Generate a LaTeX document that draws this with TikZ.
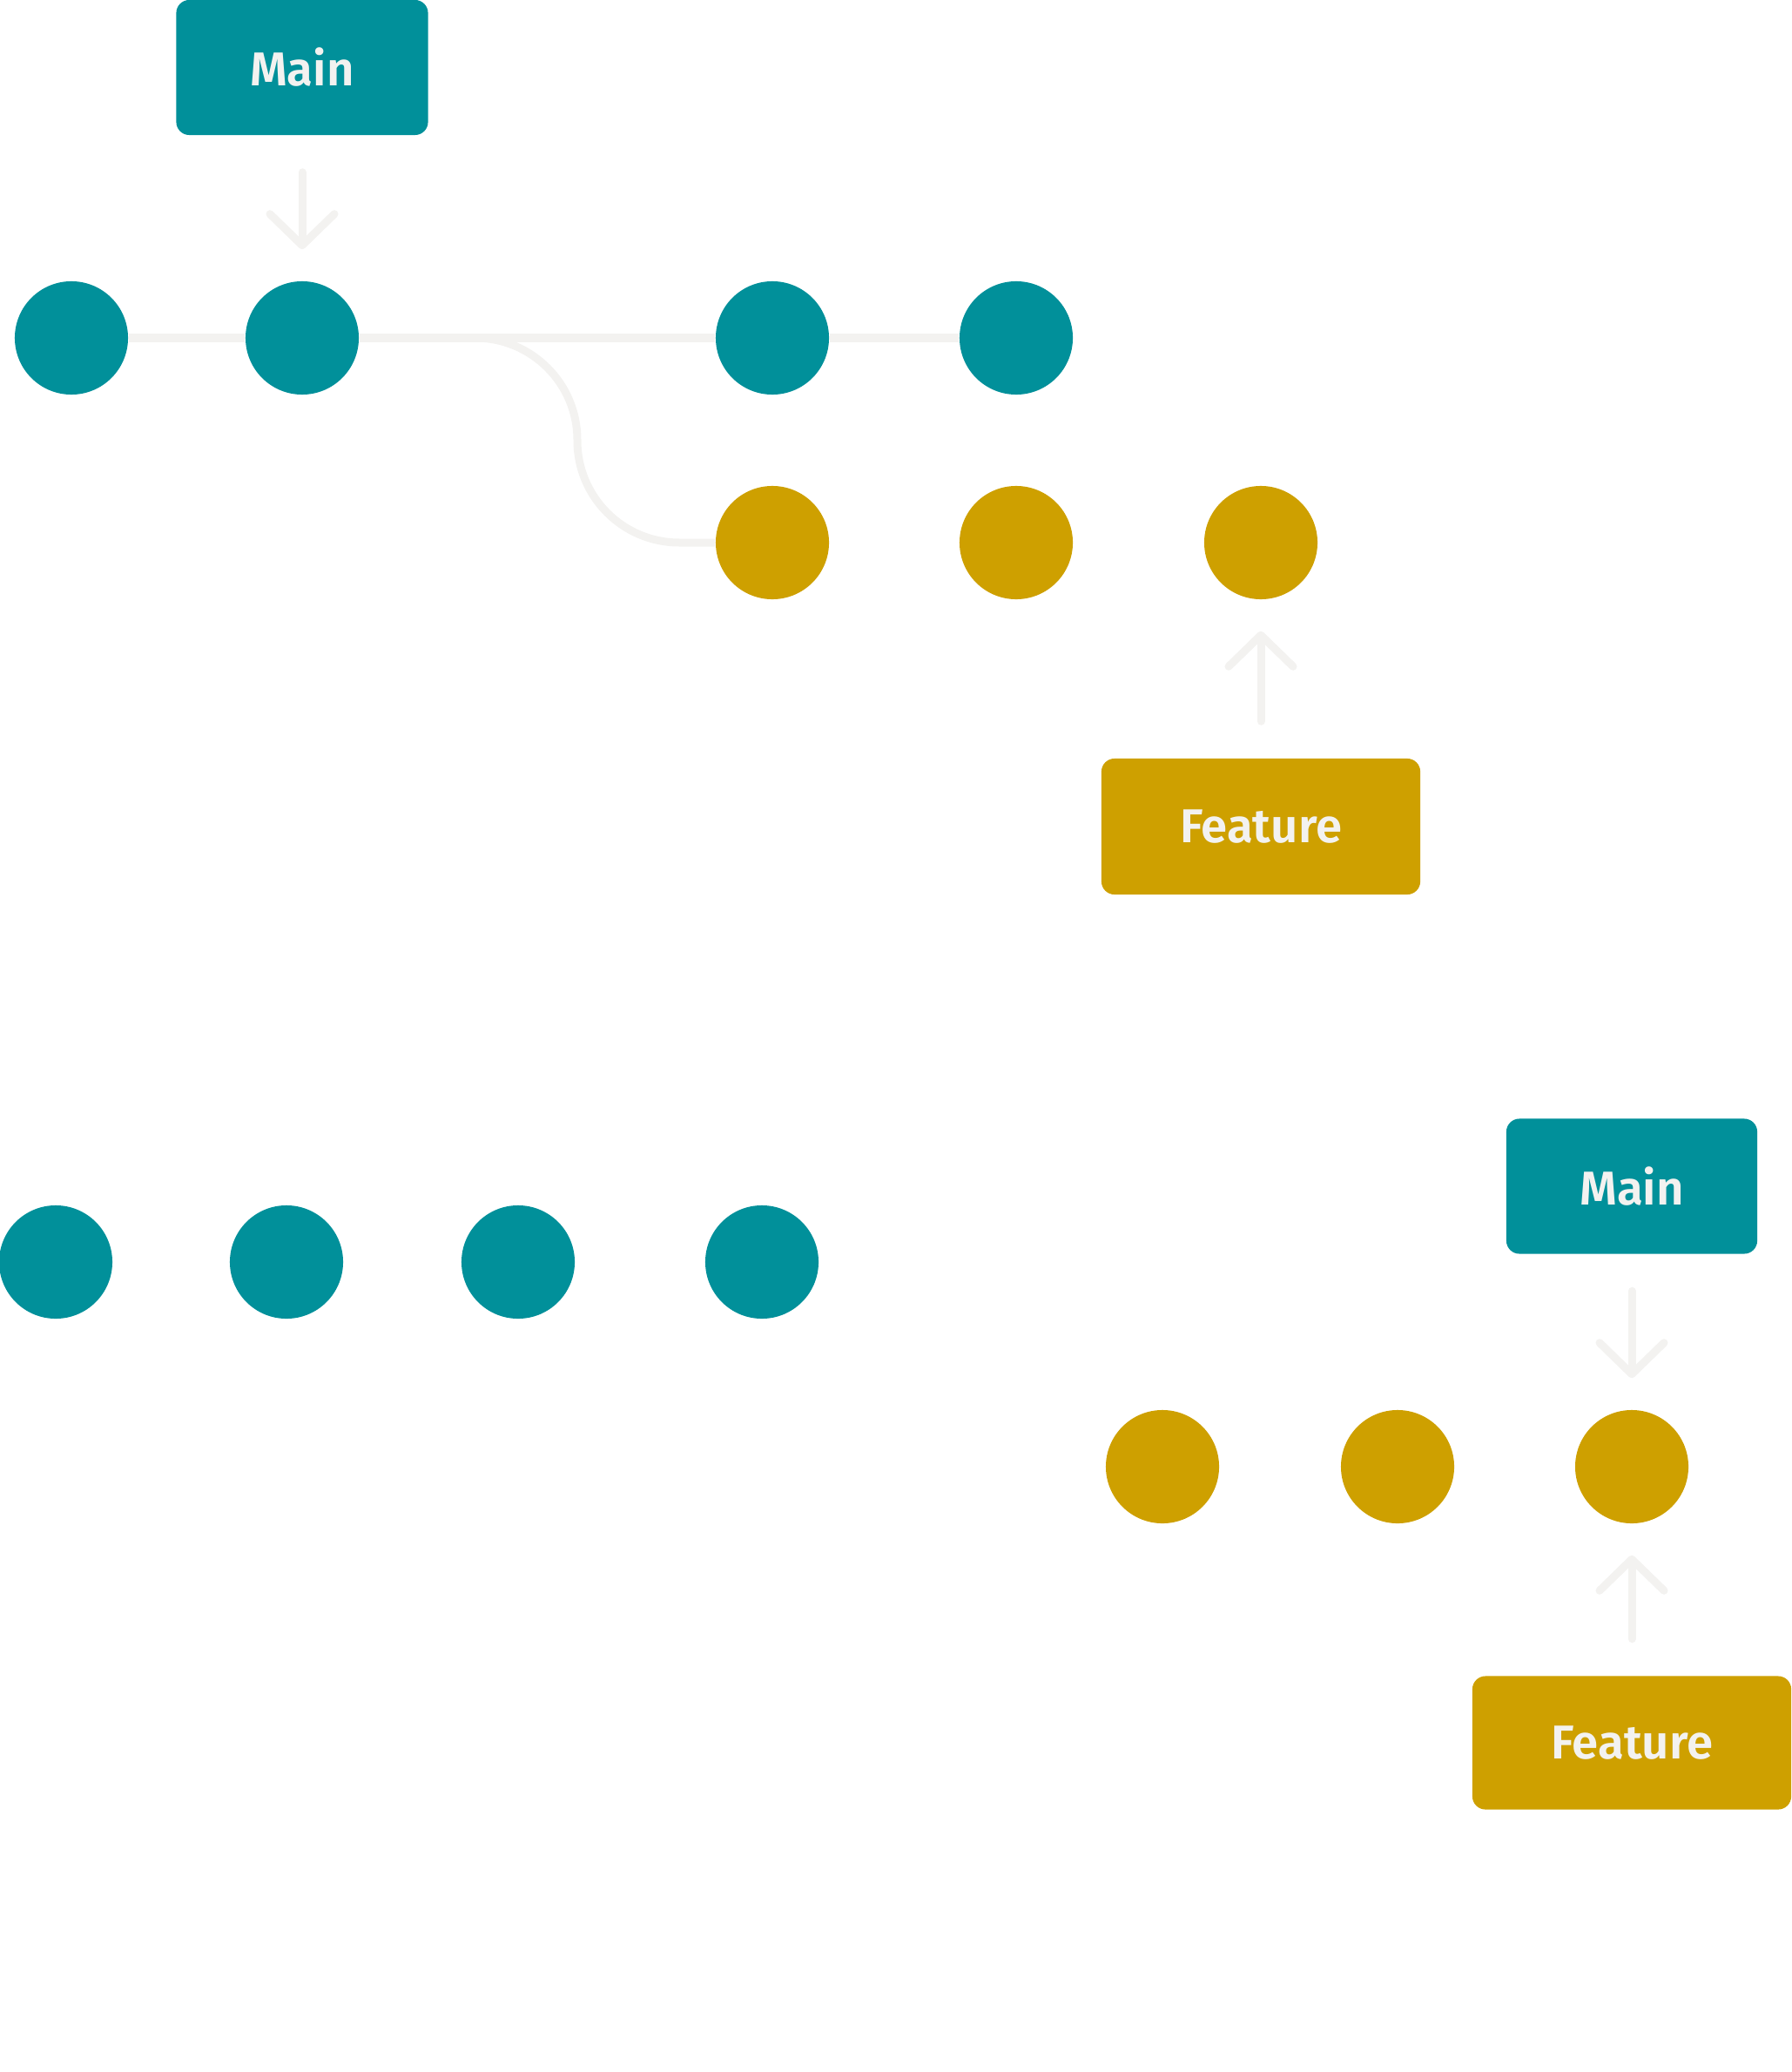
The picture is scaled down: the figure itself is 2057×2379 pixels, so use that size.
\documentclass[tikz,border=0pt]{standalone}
\usepackage{fontspec}
\setmainfont{Fira Sans}[BoldFont={Fira Sans SemiBold}]
\usetikzlibrary{arrows.meta}

\begin{document}
\begin{tikzpicture}[x=0.01cm, y=-0.01cm]
  \definecolor{myteal}{HTML}{01909A}
  \definecolor{myyellow}{HTML}{CEA000}
  \definecolor{mygray}{HTML}{F3F2F0}
  \tikzstyle{commit}=[circle, minimum size=1.3cm, inner sep=0pt]
  \tikzstyle{tag}=[rounded corners=0.15cm, inner sep=0pt, text=mygray, font=\fontsize{15.5}{18}\selectfont\bfseries]
  \tikzstyle{branch}=[draw=mygray, line width=0.09cm]
  \tikzstyle{pointer}=[draw=mygray, line width=0.09cm, line cap=round, -{Straight Barb[length=0.36cm, width=0.74cm, line cap=round, line join=round]}, shorten <=0.42cm, shorten >=0.36cm]

  \useasboundingbox (0,0) rectangle (2057,2379);

  \node[tag, fill=myteal, minimum width=2.89cm, minimum height=1.55cm] (main) at (347,77.5) {Main};
  \node[commit, fill=myteal] (m1) at (82,388) {};
  \node[commit, fill=myteal] (m2) at (347,388) {};
  \node[commit, fill=myteal] (m3) at (887,388) {};
  \node[commit, fill=myteal] (m4) at (1167,388) {};
  \node[commit, fill=myyellow] (f1) at (887,623) {};
  \node[commit, fill=myyellow] (f2) at (1167,623) {};
  \node[commit, fill=myyellow] (f3) at (1448,623) {};
  \node[tag, fill=myyellow, minimum width=3.66cm, minimum height=1.56cm] (feat) at (1448,949) {Feature};

  \draw[branch] (m1) -- (m2) -- (m3) -- (m4);
  \draw[branch, rounded corners=1.17cm] (m2) -- (663,388) -- (663,623) -- (f1);
  \draw[pointer] (main) -- (m2);
  \draw[pointer] (feat) -- (f3);

  \node[commit, fill=myteal] (n1) at (64,1449) {};
  \node[commit, fill=myteal] (n2) at (329,1449) {};
  \node[commit, fill=myteal] (n3) at (595,1449) {};
  \node[commit, fill=myteal] (n4) at (875,1449) {};
  \node[tag, fill=myteal, minimum width=2.88cm, minimum height=1.55cm] (main2) at (1874,1362) {Main};
  \node[commit, fill=myyellow] (g1) at (1335,1684) {};
  \node[commit, fill=myyellow] (g2) at (1605,1684) {};
  \node[commit, fill=myyellow] (g3) at (1874,1684) {};
  \node[tag, fill=myyellow, minimum width=3.66cm, minimum height=1.53cm] (feat2) at (1874,2001) {Feature};

  \draw[pointer] (main2) -- (g3);
  \draw[pointer] (feat2) -- (g3);
\end{tikzpicture}
\end{document}
